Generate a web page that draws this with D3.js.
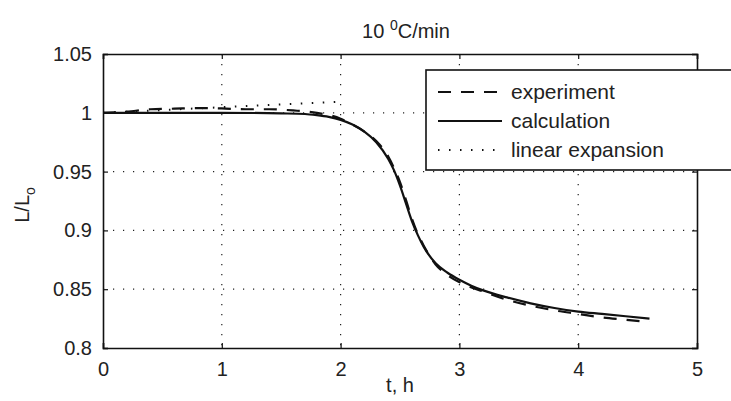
<!DOCTYPE html>
<html><head><meta charset="utf-8">
<script src="https://cdn.jsdelivr.net/npm/d3@7"></script>
<style>
html,body{margin:0;padding:0;background:#fff;}
svg{display:block;font-family:"Liberation Sans",Arial,Helvetica,sans-serif;}
</style></head>
<body>
<svg id="chart" width="731" height="401"></svg>
<script>
// ---- data ----
const xTicks = [0, 1, 2, 3, 4, 5];
const yTicks = [0.8, 0.85, 0.9, 0.95, 1, 1.05];
const yTickLabels = ["0.8", "0.85", "0.9", "0.95", "1", "1.05"];

const calcT = [0, 0.5, 1.0, 1.5, 1.7, 1.8, 1.9, 2.0, 2.1, 2.2, 2.3, 2.4, 2.45, 2.5, 2.55, 2.6, 2.65, 2.7, 2.8, 2.9, 3.0, 3.1, 3.2, 3.4, 3.6, 3.8, 4.0, 4.2, 4.4, 4.6];
const calcV = [1.0, 1.0, 1.0, 0.9995, 0.999, 0.998, 0.9965, 0.994, 0.990, 0.984, 0.975, 0.961, 0.951, 0.938, 0.923, 0.908, 0.896, 0.886, 0.872, 0.864, 0.858, 0.853, 0.849, 0.843, 0.838, 0.834, 0.831, 0.829, 0.827, 0.825];

const expT = [0, 0.2, 0.4, 0.6, 0.8, 1.0, 1.2, 1.4, 1.6, 1.8, 2.0, 2.1, 2.2, 2.3, 2.4, 2.45, 2.5, 2.55, 2.6, 2.65, 2.7, 2.8, 2.9, 3.0, 3.2, 3.4, 3.6, 3.8, 4.0, 4.2, 4.4, 4.6];
const expV = [1.0, 1.001, 1.003, 1.0035, 1.004, 1.0037, 1.003, 1.003, 1.002, 1.0, 0.995, 0.990, 0.984, 0.976, 0.963, 0.953, 0.941, 0.926, 0.910, 0.897, 0.887, 0.871, 0.862, 0.856, 0.848, 0.841, 0.836, 0.832, 0.829, 0.826, 0.824, 0.822];

const linT = [0, 2.0];
const linV = [1.0, 1.0095];

const legendLabels = ["experiment", "calculation", "linear expansion"];

// ---- layout ----
const L = 103, R = 697, T = 54, B = 348;
const svg = d3.select("#chart");
const x = d3.scaleLinear().domain([0, 5]).range([L, R]);
const y = d3.scaleLinear().domain([0.8, 1.05]).range([B, T]);

// grid
const grid = svg.append("g");
grid.selectAll("line.gx").data(xTicks.slice(1, -1)).enter().append("line")
  .attr("x1", d => x(d)).attr("x2", d => x(d)).attr("y1", T).attr("y2", B)
  .attr("stroke", "#222").attr("stroke-width", 1.2).attr("stroke-dasharray", "1.2,8.8");
grid.selectAll("line.gy").data(yTicks.slice(1, -1)).enter().append("line")
  .attr("x1", L).attr("x2", R).attr("y1", d => y(d)).attr("y2", d => y(d))
  .attr("stroke", "#222").attr("stroke-width", 1.2).attr("stroke-dasharray", "1.2,8.8");

// axes with inward ticks
const fs = "20px";
const axB = svg.append("g").attr("transform", `translate(0,${B})`)
  .call(d3.axisBottom(x).tickValues(xTicks).tickSize(-5).tickPadding(14).tickFormat(d3.format("d")));
const axT = svg.append("g").attr("transform", `translate(0,${T})`)
  .call(d3.axisTop(x).tickValues(xTicks).tickSize(-5).tickFormat(""));
const axL = svg.append("g").attr("transform", `translate(${L},0)`)
  .call(d3.axisLeft(y).tickValues(yTicks).tickSize(-5).tickPadding(11).tickFormat((d, i) => yTickLabels[i]));
const axR = svg.append("g").attr("transform", `translate(${R},0)`)
  .call(d3.axisRight(y).tickValues(yTicks).tickSize(-5).tickFormat(""));
[axB, axT, axL, axR].forEach(a => {
  a.select(".domain").attr("stroke", "#111").attr("stroke-width", 1.6);
  a.selectAll(".tick line").attr("stroke", "#111").attr("stroke-width", 1.2);
  a.selectAll("text").attr("font-size", fs).attr("fill", "#222")
    .attr("font-family", "'Liberation Sans',Arial,sans-serif");
});

// lines
const line = d3.line().x(d => x(d[0])).y(d => y(d[1]));
const smooth = d3.line().curve(d3.curveMonotoneX).x(d => x(d[0])).y(d => y(d[1]));
const linData = linT.map((t, i) => [t, linV[i]]);
const expData = expT.map((t, i) => [t, expV[i]]);
const calcData = calcT.map((t, i) => [t, calcV[i]]);
svg.append("path").datum(linData).attr("d", line).attr("fill", "none")
  .attr("stroke", "#111").attr("stroke-width", 2).attr("stroke-dasharray", "1.5,9.5");
svg.append("path").datum(calcData).attr("d", smooth)
  .attr("fill", "none").attr("stroke", "#111").attr("stroke-width", 2.2);
svg.append("path").datum(expData).attr("d", smooth)
  .attr("fill", "none").attr("stroke", "#111").attr("stroke-width", 2.2).attr("stroke-dasharray", "13,10");

// title
const title = svg.append("text").attr("x", 406).attr("y", 38).attr("text-anchor", "middle")
  .attr("font-size", fs).attr("fill", "#222");
title.append("tspan").text("10 ");
title.append("tspan").attr("font-size", "14px").attr("dy", -8).text("0");
title.append("tspan").attr("dy", 8).text("C/min");

// axis labels
svg.append("text").attr("x", x(2.5)).attr("y", 392).attr("text-anchor", "middle")
  .attr("font-size", fs).attr("fill", "#222").text("t, h");
const yl = svg.append("text").attr("transform", `translate(29,${(T + B) / 2 + 4}) rotate(-90)`)
  .attr("text-anchor", "middle").attr("font-size", fs).attr("fill", "#222");
yl.append("tspan").text("L/L");
yl.append("tspan").attr("font-size", "14px").attr("dy", 6).text("o");

// legend
const lg = svg.append("g");
lg.append("rect").attr("x", 426).attr("y", 70).attr("width", 330).attr("height", 100)
  .attr("fill", "#fff").attr("stroke", "#111").attr("stroke-width", 1.6);
const styles = [
  {dash: "13,10", w: 2.2},
  {dash: null, w: 2.2},
  {dash: "1.5,9.5", w: 2}
];
const rowY = [92, 121, 150];
legendLabels.forEach((lab, i) => {
  const ln = lg.append("line").attr("x1", 438).attr("x2", 502).attr("y1", rowY[i]).attr("y2", rowY[i])
    .attr("stroke", "#111").attr("stroke-width", styles[i].w);
  if (styles[i].dash) ln.attr("stroke-dasharray", styles[i].dash);
  lg.append("text").attr("x", 511).attr("y", rowY[i] + 7).attr("font-size", "21px").attr("fill", "#222").text(lab);
});
</script>
</body></html>
